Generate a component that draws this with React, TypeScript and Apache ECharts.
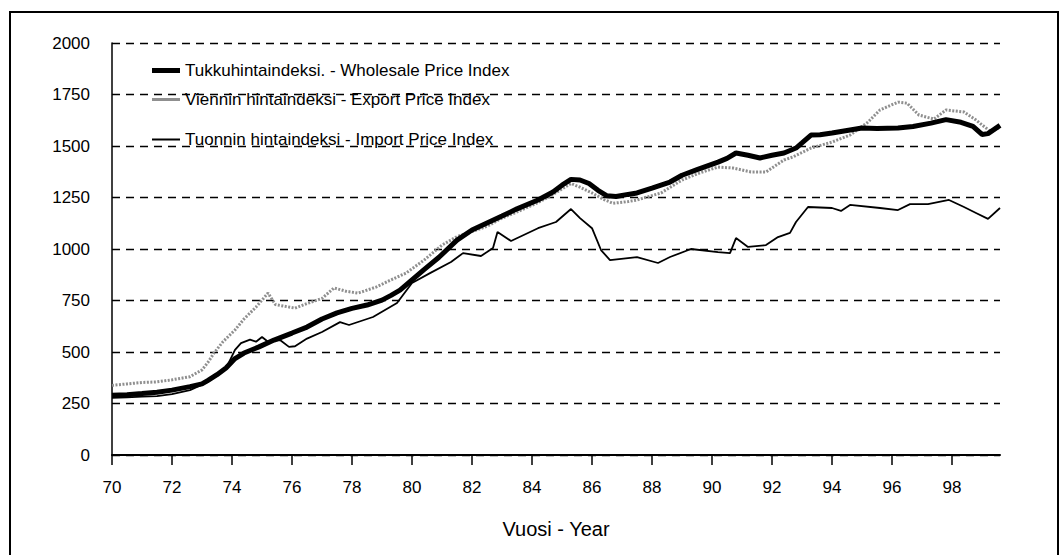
import React, { useEffect, useRef } from "react";
import * as echarts from "echarts";

const FONT = "'Liberation Sans', Arial, Helvetica, sans-serif";

const seriesNames = [
  "Tukkuhintaindeksi. - Wholesale Price Index",
  "Viennin hintaindeksi - Export Price Index",
  "Tuonnin hintaindeksi - Import Price Index",
];

const xTickValues = [70, 72, 74, 76, 78, 80, 82, 84, 86, 88, 90, 92, 94, 96, 98];
const yTickValues = [0, 250, 500, 750, 1000, 1250, 1500, 1750, 2000];
const xAxisTitle = "Vuosi - Year";

// [year (19xx), index value]
const wholesale: [number, number][] = [
  [70.0, 290], [70.5, 293], [71.0, 298], [71.5, 305], [72.0, 315], [72.6, 332],
  [73.0, 345], [73.2, 362], [73.5, 390], [73.8, 422], [74.1, 468], [74.4, 495],
  [74.9, 525], [75.4, 558], [76.0, 592], [76.5, 621], [77.0, 660], [77.5, 690],
  [78.0, 712], [78.5, 728], [79.0, 752], [79.3, 775], [79.6, 800], [80.0, 850],
  [80.4, 900], [80.9, 960], [81.5, 1043], [82.0, 1092], [82.5, 1126], [83.0, 1160],
  [83.5, 1195], [84.2, 1238], [84.7, 1277], [85.0, 1310], [85.3, 1338], [85.6, 1335],
  [85.9, 1318], [86.2, 1285], [86.5, 1258], [86.8, 1255], [87.2, 1265], [87.5, 1272],
  [88.0, 1296], [88.6, 1325], [89.0, 1358], [89.5, 1385], [90.2, 1422], [90.5, 1440],
  [90.8, 1466], [91.2, 1455], [91.6, 1442], [92.0, 1455], [92.4, 1466], [92.8, 1490],
  [93.0, 1515], [93.3, 1553], [93.6, 1555], [94.0, 1563], [94.6, 1578], [95.0, 1587],
  [95.5, 1585], [96.2, 1587], [96.7, 1595], [97.3, 1611], [97.8, 1628], [98.3, 1615],
  [98.7, 1595], [99.0, 1556], [99.2, 1560], [99.6, 1600],
];

const exportIdx: [number, number][] = [
  [70.0, 338], [70.5, 345], [71.0, 352], [71.5, 355], [72.0, 365], [72.6, 380],
  [73.0, 413], [73.2, 450], [73.4, 495], [73.7, 550], [74.1, 607], [74.4, 660],
  [74.8, 718], [75.2, 786], [75.45, 730], [76.1, 713], [76.5, 735], [77.0, 760],
  [77.4, 811], [77.8, 795], [78.2, 786], [78.8, 815], [79.3, 850], [79.8, 883],
  [80.4, 946], [81.0, 1019], [81.5, 1060], [82.0, 1085], [82.5, 1110], [83.0, 1150],
  [83.5, 1180], [84.2, 1225], [84.7, 1265], [85.3, 1318], [85.6, 1300], [86.0, 1272],
  [86.4, 1240], [86.7, 1222], [87.2, 1230], [87.5, 1238], [88.3, 1272], [89.0, 1335],
  [89.6, 1370], [90.2, 1398], [90.7, 1393], [91.3, 1374], [91.8, 1374], [92.4, 1432],
  [92.7, 1447], [93.3, 1490], [94.0, 1519], [94.6, 1553], [95.2, 1616], [95.6, 1675],
  [96.2, 1713], [96.5, 1708], [96.9, 1650], [97.4, 1631], [97.8, 1675], [98.4, 1665],
  [98.8, 1626], [99.3, 1568], [99.6, 1592],
];

const importIdx: [number, number][] = [
  [70.0, 277], [70.5, 280], [71.0, 283], [71.5, 286], [72.0, 296], [72.6, 315],
  [73.2, 355], [73.8, 420], [74.1, 510], [74.3, 543], [74.6, 560], [74.8, 550],
  [75.0, 573], [75.2, 550], [75.6, 558], [75.9, 525], [76.1, 528], [76.5, 565],
  [77.0, 597], [77.6, 645], [77.9, 631], [78.7, 670], [79.5, 738], [80.0, 835],
  [80.6, 883], [81.3, 937], [81.7, 980], [82.3, 966], [82.5, 985], [82.7, 1005],
  [82.85, 1083], [83.3, 1039], [84.2, 1101], [84.8, 1131], [85.3, 1194], [85.6, 1150],
  [86.0, 1101], [86.3, 995], [86.6, 946], [87.5, 961], [88.2, 932], [88.6, 961],
  [89.3, 1000], [90.2, 985], [90.6, 980], [90.8, 1053], [91.2, 1010], [91.8, 1019],
  [92.2, 1058], [92.6, 1078], [92.8, 1131], [93.2, 1204], [94.0, 1199], [94.3, 1185],
  [94.6, 1214], [95.6, 1199], [96.2, 1189], [96.6, 1218], [97.2, 1218], [97.9, 1238],
  [98.4, 1204], [98.8, 1175], [99.2, 1146], [99.6, 1199],
];

const legendTops = [62, 91, 131];

export default function App() {
  const ref = useRef<HTMLDivElement>(null);

  useEffect(() => {
    if (!ref.current) return;
    const chart = echarts.init(ref.current, null, { renderer: "svg" });
    const textStyle = { fontFamily: FONT, fontSize: 17, color: "#000" };
    const legendIconHeights = [5, 3, 2];
    chart.setOption({
      animation: false,
      backgroundColor: "#fff",
      textStyle: { fontFamily: FONT },
      grid: { left: 112, right: 62, top: 43, bottom: 100, containLabel: false },
      legend: seriesNames.map((n, i) => ({
        data: [n],
        left: 152,
        top: legendTops[i],
        icon: "rect",
        itemWidth: 28,
        itemHeight: legendIconHeights[i],
        selectedMode: false,
        textStyle,
        padding: 0,
      })),
      xAxis: {
        type: "value",
        min: 70,
        max: 99.6,
        interval: 2,
        name: xAxisTitle,
        nameLocation: "middle",
        nameGap: 64,
        nameTextStyle: { ...textStyle, fontSize: 20 },
        axisLine: { show: true, onZero: false, lineStyle: { color: "#000", width: 2 } },
        axisTick: {
          show: true,
          inside: false,
          length: 10,
          lineStyle: { color: "#000", width: 1.5 },
          customValues: xTickValues,
        },
        axisLabel: {
          ...textStyle,
          margin: 24,
          customValues: xTickValues,
          formatter: (v: number) => String(v),
        },
        splitLine: { show: false },
      },
      yAxis: {
        type: "value",
        min: 0,
        max: 2000,
        interval: 250,
        axisLine: { show: true, lineStyle: { color: "#000", width: 1.5 } },
        axisTick: { show: false },
        axisLabel: {
          ...textStyle,
          margin: 22,
          customValues: yTickValues,
          formatter: (v: number) => String(v),
        },
        splitLine: {
          show: true,
          lineStyle: { color: "#000", width: 1.4, type: [8, 6] },
        },
      },
      series: [
        {
          name: seriesNames[2],
          type: "line",
          data: importIdx,
          showSymbol: false,
          color: "#000",
          lineStyle: { color: "#000", width: 1.8 },
          z: 2,
        },
        {
          name: seriesNames[1],
          type: "line",
          data: exportIdx,
          showSymbol: false,
          color: "#8f8f8f",
          lineStyle: { color: "#8f8f8f", width: 3, type: [2, 1.5] },
          z: 3,
        },
        {
          name: seriesNames[0],
          type: "line",
          data: wholesale,
          showSymbol: false,
          color: "#000",
          lineStyle: { color: "#000", width: 5 },
          z: 4,
        },
      ],
      graphic: [
        {
          type: "rect",
          shape: { x: 10, y: 12, width: 1048, height: 560 },
          style: { fill: "none", stroke: "#000", lineWidth: 2 },
          silent: true,
          z: 0,
        },
      ],
    });
    return () => chart.dispose();
  }, []);

  return (
    <div
      ref={ref}
      style={{ position: "absolute", left: 0, top: 0, width: 1062, height: 555, background: "#fff" }}
    />
  );
}
